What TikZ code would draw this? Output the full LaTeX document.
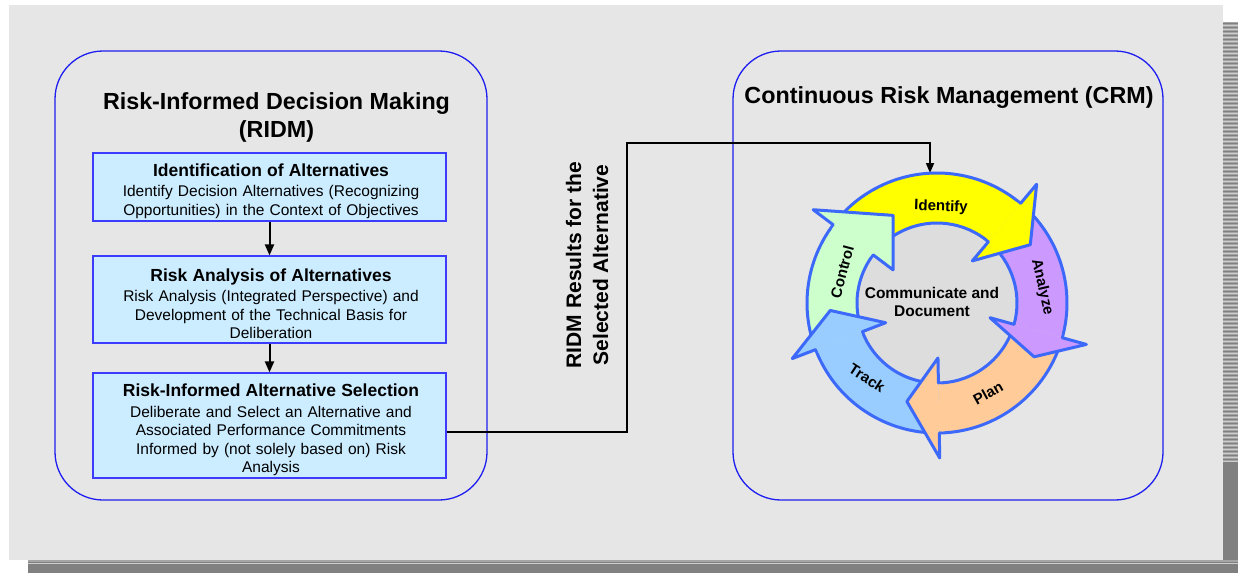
\documentclass[tikz,border=0pt]{standalone}
\usepackage{fontspec}
\setmainfont{Liberation Sans}
\usetikzlibrary{arrows.meta}

\definecolor{panelgray}{RGB}{230,230,230}
\definecolor{discgray}{RGB}{221,221,221}
\definecolor{frameblue}{RGB}{30,30,240}
\definecolor{boxedge}{RGB}{60,60,255}
\definecolor{boxfill}{RGB}{204,236,255}
\definecolor{ringedge}{RGB}{60,105,250}
\definecolor{cyyellow}{RGB}{255,255,0}
\definecolor{cypurple}{RGB}{204,153,255}
\definecolor{cyorange}{RGB}{255,204,153}
\definecolor{cyblue}{RGB}{153,204,255}
\definecolor{cygreen}{RGB}{204,255,204}
\definecolor{shadowdark}{RGB}{128,128,128}
\definecolor{shadowmid}{RGB}{165,165,165}
\definecolor{shadowlight}{RGB}{205,205,205}

% bold first line of a step box
\newcommand\stephead[1]{{\bfseries\fontsize{17.5}{20}\selectfont #1}}

\begin{document}
\begin{tikzpicture}[x=1pt,y=-1pt,
  frame/.style={draw=frameblue,line width=1.3pt,rounded corners=48pt,
    minimum width=432pt,minimum height=449pt,inner sep=0pt},
  stepbox/.style={draw=boxedge,fill=boxfill,line width=1.2pt,
    minimum width=353pt,inner sep=0pt},
  steptext/.style={text width=345pt,align=center,inner sep=0pt,
    font=\fontsize{15.5}{18.3}\selectfont},
  flow/.style={line width=2pt,-{Triangle[length=11pt,width=9pt]}},
  link/.style={line width=1.6pt,-{Triangle[length=10pt,width=8pt]}},
  ringline/.style={draw=ringedge,line width=3pt,line cap=round,line join=round},
  cyclabel/.style={font=\fontsize{15}{17}\selectfont\bfseries,inner sep=0pt},
  heading/.style={font=\fontsize{23.3}{28}\selectfont\bfseries,align=center,inner sep=0pt}]

\useasboundingbox (0,0) rectangle (1238,573);

% page, panel and its drop shadow
\fill[white] (0,0) rectangle (1238,573);
\fill[panelgray] (9,5) rectangle (1223,560);
\fill[shadowmid] (1223,22) rectangle (1238,573);
\foreach \k in {0,...,109} {
  \draw[shadowdark,line width=1.2pt] (1223,{23.5+4*\k}) -- (1238,{23.5+4*\k});
  \draw[shadowlight,line width=0.8pt] (1223,{25.5+4*\k}) -- (1238,{25.5+4*\k});
}
\fill[shadowdark] (1223,462) rectangle (1238,573);
\fill[shadowdark] (28,560) rectangle (1238,573);
\draw[shadowmid,line width=1.5pt] (28,561) -- (1238,561);
\draw[shadowlight,line width=1pt] (28,563.5) -- (1238,563.5);

% the two rounded frames
\node[frame] (ridmframe) at (271,275.5) {};
\node[frame,minimum width=430pt] (crmframe) at (948,275.5) {};

\node[heading] (ridmtitle) at (276.5,117) {Risk-Informed Decision Making\\(RIDM)};
\node[heading] (crmtitle) at (949,98) {Continuous Risk Management (CRM)};

% RIDM steps
\node[stepbox,minimum height=68pt] (idbox) at (269.5,187) {};
\node[steptext] (idtext) at (271,191)
  {\stephead{Identification of Alternatives}\\[2.5pt]
   Identify Decision Alternatives (Recognizing\\Opportunities) in the Context of Objectives};
\node[stepbox,minimum height=87pt] (rabox) at (269.5,299.5) {};
\node[steptext] (ratext) at (271,303.5)
  {\stephead{Risk Analysis of Alternatives}\\[2.5pt]
   Risk Analysis (Integrated Perspective) and\\Development of the Technical Basis for\\Deliberation};
\node[stepbox,minimum height=105pt] (selbox) at (269.5,425.5) {};
\node[steptext] (seltext) at (271,430)
  {\stephead{Risk-Informed Alternative Selection}\\[2.5pt]
   Deliberate and Select an Alternative and\\Associated Performance Commitments\\Informed by (not solely based on) Risk\\Analysis};

\draw[flow] (idbox) -- (rabox);
\draw[flow] (rabox) -- (selbox);

% hand-over from RIDM to CRM
\node[heading,font=\fontsize{21}{27}\selectfont\bfseries,rotate=90] (handover) at (587,265)
  {RIDM Results for the\\Selected Alternative};
\coordinate (riser) at (627,143);
\coordinate (cycletop) at (930,173);
\draw[link] ([yshift=-6.5pt]selbox.east) -| (riser) -| (cycletop);

% CRM cycle: five curved arrows around a shared disc
\begin{scope}[shift={(937,303)},yscale=-1]
  \fill[discgray] (0,0) circle[radius=80];
  % ring segments
  \foreach \col/\s/\b in {cyyellow/143/50, cypurple/50/-15.5, cyorange/-15.5/-89,
                          cyblue/-89/-159, cygreen/201/143} {
    \fill[\col] (\s:130) arc[start angle=\s,end angle=\b,radius=130]
      -- (\b:80) arc[start angle=\b,end angle=\s,radius=80] -- cycle;
  }
  \foreach \s/\b in {143/50, 50/-15.5, -15.5/-89, -89/-159, 201/143} {
    \draw[ringline] (\s:130) arc[start angle=\s,end angle=\b,radius=130];
    \draw[ringline] (\s:80) arc[start angle=\s,end angle=\b,radius=80];
  }
  % arrow heads, each lying over the start of the next segment
  \foreach \col/\b/\t/\r in {cyyellow/50/32/110, cypurple/-15.5/-29/111,
                             cyorange/-89/-107/103, cyblue/-159/-176/107,
                             cygreen/143/116.6/98} {
    \fill[\col] (\b:155) -- (\t:\r) -- (\b:55) -- cycle;
    \fill[\col] (\b:81.5) arc[start angle=\b,end angle={\b+2},radius=81.5]
      -- ({\b+2}:128.5) arc[start angle={\b+2},end angle=\b,radius=128.5] -- cycle;
    \draw[ringline] (\b:130) -- (\b:155) -- (\t:\r) -- (\b:55) -- (\b:80);
  }
\end{scope}

\node[cyclabel,rotate=-2] (lidentify) at (941,207) {Identify};
\node[cyclabel,rotate=-77] (lanalyze) at (1042,287) {Analyze};
\node[cyclabel,rotate=29] (lplan) at (988,393) {Plan};
\node[cyclabel,rotate=-33] (ltrack) at (867,378) {Track};
\node[cyclabel,rotate=75] (lcontrol) at (842,272) {Control};
\node[cyclabel,font=\fontsize{15.5}{18}\selectfont\bfseries,align=center] (lcenter) at (932,302)
  {Communicate and\\Document};

\end{tikzpicture}
\end{document}
